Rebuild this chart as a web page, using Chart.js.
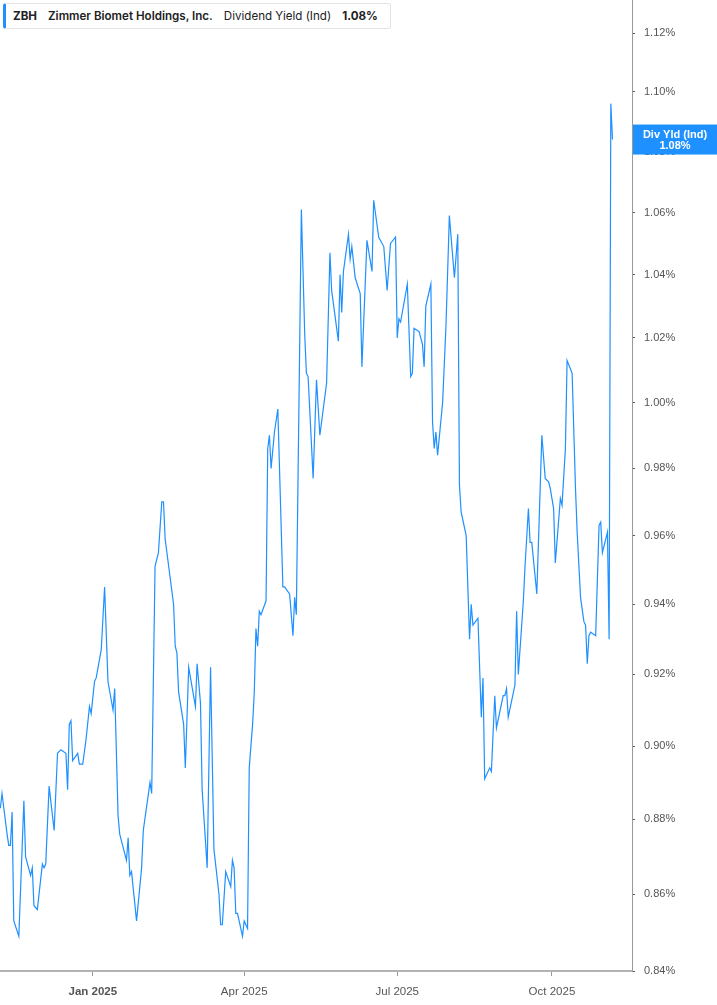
<!DOCTYPE html>
<html>
<head>
<meta charset="utf-8">
<title>ZBH Dividend Yield</title>
<script src="https://cdn.jsdelivr.net/npm/chart.js@4.4.1/dist/chart.umd.min.js"></script>
<style>
  html, body { margin: 0; padding: 0; background: #fff; }
  #wrap { position: relative; width: 717px; height: 1005px; overflow: hidden; }
  #chart { display: block; }
  #legend {
    position: absolute; left: 3px; top: 3px; height: 26px;
    box-sizing: border-box;
    display: flex; align-items: center;
    background: #fff;
    border: 1px solid #e4e4e4; border-left: 3px solid #1e90ff;
    border-radius: 3px;
    padding: 0 12px 0 7px;
    font-family: Inter, "Liberation Sans", Arial, sans-serif;
    font-size: 11.6px; color: #222; white-space: nowrap;
  }
  #legend span { margin-right: 11px; }
  #legend span:last-child { margin-right: 0; }
  #legend .b { font-weight: 700; }
  #legend .sb { font-weight: 600; }
</style>
</head>
<body>
<div id="wrap">
  <canvas id="chart" width="717" height="1005"></canvas>
  <div id="legend"></div>
</div>
<script>
// Series
const dates = [
  "2024-11-07","2024-11-08","2024-11-11","2024-11-12","2024-11-13","2024-11-14","2024-11-15","2024-11-18",
  "2024-11-21","2024-11-22","2024-11-25","2024-11-26","2024-11-27","2024-11-29","2024-12-02","2024-12-03",
  "2024-12-04","2024-12-06","2024-12-09","2024-12-11","2024-12-13","2024-12-16","2024-12-17","2024-12-18",
  "2024-12-19","2024-12-20","2024-12-23","2024-12-24","2024-12-26","2024-12-28","2024-12-30","2024-12-31",
  "2025-01-02","2025-01-03","2025-01-06","2025-01-08","2025-01-10","2025-01-13","2025-01-14","2025-01-16",
  "2025-01-17","2025-01-21","2025-01-22","2025-01-23","2025-01-24","2025-01-27","2025-01-30","2025-01-31",
  "2025-02-04","2025-02-05","2025-02-07","2025-02-09","2025-02-11","2025-02-12","2025-02-13","2025-02-18",
  "2025-02-19","2025-02-20","2025-02-21","2025-02-24","2025-02-25","2025-02-27","2025-03-03","2025-03-04",
  "2025-03-06","2025-03-07","2025-03-10","2025-03-12","2025-03-14","2025-03-17","2025-03-18","2025-03-19",
  "2025-03-21","2025-03-24","2025-03-25","2025-03-26","2025-03-27","2025-03-28","2025-03-31","2025-04-01",
  "2025-04-03","2025-04-04","2025-04-06","2025-04-07","2025-04-08","2025-04-09","2025-04-10","2025-04-11",
  "2025-04-14","2025-04-15","2025-04-16","2025-04-17","2025-04-19","2025-04-21","2025-04-24","2025-04-25",
  "2025-04-28","2025-04-30","2025-05-01","2025-05-02","2025-05-05","2025-05-07","2025-05-08","2025-05-09",
  "2025-05-12","2025-05-14","2025-05-16","2025-05-20","2025-05-22","2025-05-23","2025-05-27","2025-05-28",
  "2025-05-29","2025-05-30","2025-06-02","2025-06-03","2025-06-04","2025-06-06","2025-06-09","2025-06-10",
  "2025-06-13","2025-06-16","2025-06-17","2025-06-20","2025-06-23","2025-06-25","2025-06-27","2025-06-30",
  "2025-07-01","2025-07-02","2025-07-03","2025-07-07","2025-07-09","2025-07-10","2025-07-11","2025-07-14",
  "2025-07-16","2025-07-17","2025-07-18","2025-07-21","2025-07-22","2025-07-23","2025-07-24","2025-07-25",
  "2025-07-28","2025-07-30","2025-08-01","2025-08-04","2025-08-06","2025-08-07","2025-08-08","2025-08-11",
  "2025-08-13","2025-08-14","2025-08-15","2025-08-18","2025-08-20","2025-08-21","2025-08-22","2025-08-25",
  "2025-08-26","2025-08-28","2025-08-29","2025-09-02","2025-09-03","2025-09-04","2025-09-05","2025-09-09",
  "2025-09-10","2025-09-11","2025-09-14","2025-09-15","2025-09-17","2025-09-18","2025-09-19","2025-09-22",
  "2025-09-25","2025-09-27","2025-09-29","2025-09-30","2025-10-02","2025-10-03","2025-10-06","2025-10-07",
  "2025-10-09","2025-10-10","2025-10-13","2025-10-15","2025-10-16","2025-10-18","2025-10-20","2025-10-21",
  "2025-10-22","2025-10-23","2025-10-24","2025-10-27","2025-10-29","2025-10-30","2025-10-31","2025-11-03",
  "2025-11-04","2025-11-05","2025-11-06"
];

const yieldValues = [
  0.883,0.887,0.876,0.873,0.873,0.882,0.853,0.849,
  0.885,0.870,0.865,0.867,0.857,0.856,0.868,0.867,
  0.868,0.889,0.877,0.898,0.899,0.898,0.888,0.906,
  0.907,0.896,0.898,0.895,0.895,0.902,0.911,0.909,
  0.918,0.919,0.927,0.945,0.918,0.910,0.916,0.881,
  0.876,0.869,0.875,0.865,0.866,0.853,0.867,0.877,
  0.890,0.887,0.951,0.955,0.970,0.970,0.959,0.940,
  0.928,0.926,0.915,0.906,0.894,0.922,0.911,0.923,
  0.912,0.888,0.867,0.922,0.872,0.860,0.852,0.852,
  0.866,0.862,0.869,0.867,0.855,0.855,0.849,0.853,
  0.851,0.894,0.906,0.915,0.933,0.928,0.938,0.937,
  0.941,0.986,0.990,0.980,0.991,0.998,0.945,0.945,
  0.943,0.931,0.942,0.937,1.061,1.021,1.009,1.008,
  0.977,1.007,0.990,1.006,1.047,1.035,1.019,1.040,
  1.028,1.041,1.053,1.045,1.049,1.039,1.034,1.011,
  1.051,1.041,1.064,1.052,1.049,1.035,1.050,1.052,
  1.020,1.026,1.025,1.037,1.008,1.009,1.023,1.022,
  1.018,1.011,1.030,1.037,0.994,0.986,0.991,0.984,
  1.000,1.024,1.059,1.039,1.053,0.975,0.967,0.960,
  0.930,0.940,0.934,0.936,0.908,0.919,0.891,0.894,
  0.893,0.914,0.905,0.914,0.914,0.916,0.908,0.917,
  0.938,0.920,0.941,0.951,0.968,0.958,0.958,0.943,
  0.990,0.977,0.976,0.974,0.968,0.952,0.971,0.969,
  0.986,1.013,1.009,0.974,0.961,0.942,0.935,0.934,
  0.923,0.931,0.932,0.931,0.963,0.964,0.955,0.961,
  0.930,1.096,1.084
];

// Axis ticks
const tickDates = ["2025-01-01", "2025-04-01", "2025-07-01", "2025-10-01"];
const tickLabels = ["Jan 2025", "Apr 2025", "Jul 2025", "Oct 2025"];
const yTicks = [0.84, 0.86, 0.88, 0.90, 0.92, 0.94, 0.96, 0.98, 1.00, 1.02, 1.04, 1.06, 1.08, 1.10, 1.12];

const ticker = "ZBH";
const company = "Zimmer Biomet Holdings, Inc.";
const metric = "Dividend Yield (Ind)";
const tagName = "Div Yld (Ind)";

const LINE = "#1e90ff";
const DAY = 864e5;
const base = Date.parse("2025-01-01");
const dayOf = (d) => (Date.parse(d) - base) / DAY;

const lastValue = yieldValues[yieldValues.length - 1];

// Legend box
document.getElementById("legend").innerHTML =
  `<span class="b">${ticker}</span><span class="sb">${company}</span>` +
  `<span>${metric}</span><span class="b">${lastValue.toFixed(2)}%</span>`;

// Last value tag on the right axis
const lastValueTag = {
  id: "lastValueTag",
  afterDraw(chart) {
    const { ctx, chartArea, scales } = chart;
    const y = scales.y.getPixelForValue(lastValue);
    const left = chartArea.right + 1;
    const w = chart.width - left;
    ctx.save();
    ctx.fillStyle = LINE;
    ctx.fillRect(left, y - 15, w, 30);
    ctx.fillStyle = "#fff";
    ctx.font = 'bold 11px "Liberation Sans", Arial, sans-serif';
    ctx.textAlign = "center";
    ctx.textBaseline = "middle";
    const cx = left + w / 2;
    ctx.fillText(tagName, cx, y - 5);
    ctx.fillText(lastValue.toFixed(2) + "%", cx, y + 6);
    ctx.restore();
  }
};

const ctx = document.getElementById("chart").getContext("2d");

new Chart(ctx, {
  type: "line",
  data: {
    datasets: [{
      label: metric,
      data: dates.map((d, i) => ({ x: dayOf(d), y: yieldValues[i] })),
      borderColor: LINE,
      borderWidth: 1.2,
      pointRadius: 0,
      tension: 0,
      fill: false
    }]
  },
  options: {
    responsive: false,
    animation: false,
    layout: { padding: 0 },
    plugins: {
      legend: { display: false },
      tooltip: { enabled: false }
    },
    scales: {
      x: {
        type: "linear",
        min: -55.2,
        max: 320.6,
        afterBuildTicks: (scale) => {
          scale.ticks = tickDates.map((d) => ({ value: dayOf(d) }));
        },
        afterFit: (scale) => {
          scale.height = 34;
          scale.paddingLeft = 0;
          scale.paddingRight = 0;
        },
        grid: {
          drawOnChartArea: false,
          drawTicks: true,
          tickLength: 5,
          tickColor: "#999"
        },
        border: { display: true, color: "#b3b3b3", width: 2 },
        ticks: {
          autoSkip: false,
          maxRotation: 0,
          padding: 9,
          color: "#555",
          font: (c) => ({
            family: '"Liberation Sans", Arial, sans-serif',
            size: 11.5,
            weight: c.index === 0 ? "bold" : "normal"
          }),
          callback: (value, index) => tickLabels[index]
        }
      },
      y: {
        type: "logarithmic",
        position: "right",
        min: 0.84,
        max: 1.1314,
        afterBuildTicks: (scale) => {
          scale.ticks = yTicks.map((v) => ({ value: v }));
        },
        afterFit: (scale) => {
          scale.width = 85;
          scale.paddingTop = 0;
          scale.paddingBottom = 0;
        },
        grid: {
          drawOnChartArea: false,
          drawTicks: true,
          tickLength: 3,
          tickColor: "#555"
        },
        border: { display: true, color: "#999", width: 1 },
        ticks: {
          padding: 9,
          color: "#555",
          font: { family: '"Liberation Sans", Arial, sans-serif', size: 11 },
          callback: (value) => Number(value).toFixed(2) + "%"
        }
      }
    }
  },
  plugins: [lastValueTag]
});
</script>
</body>
</html>
